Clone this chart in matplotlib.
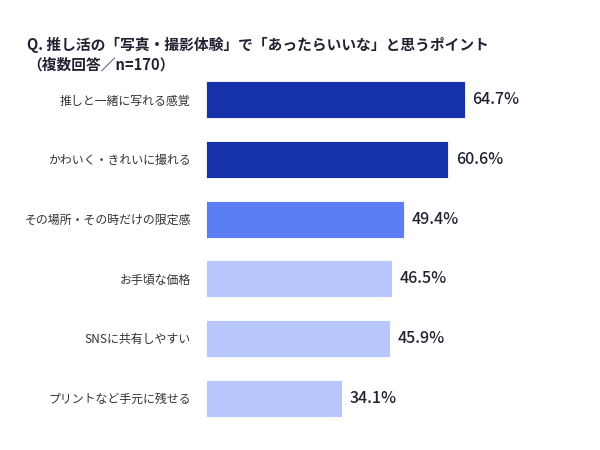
import matplotlib
matplotlib.use("Agg")
import matplotlib.pyplot as plt

plt.rcParams["font.family"] = ["Noto Sans CJK JP", "DejaVu Sans"]

TITLE = "Q. 推し活の「写真・撮影体験」で「あったらいいな」と思うポイント\n（複数回答／n=170）"
CATEGORIES = [
    "推しと一緒に写れる感覚",
    "かわいく・きれいに撮れる",
    "その場所・その時だけの限定感",
    "お手頃な価格",
    "SNSに共有しやすい",
    "プリントなど手元に残せる",
]
VALUES = [64.7, 60.6, 49.4, 46.5, 45.9, 34.1]
COLORS = ["#1632a8", "#1632a8", "#5b7ef2", "#b9c7ff", "#b9c7ff", "#b9c7ff"]

fig = plt.figure(figsize=(6, 4.5), dpi=100)
ax = fig.add_axes([206 / 600, 0.0489, 0.6, 0.7956])

ypos = list(range(len(CATEGORIES)))
ax.barh(ypos, VALUES, height=0.62, color=COLORS, edgecolor="white", linewidth=0.6)

for y, v in zip(ypos, VALUES):
    ax.text(v + 1.9, y, f"{v:.1f}%", va="center", ha="left",
            fontsize=11.5, fontweight="medium", color="#222233")

ax.set_xlim(0, 90)
ax.set_ylim(len(CATEGORIES) - 0.5, -0.5)
ax.set_yticks(ypos)
ax.set_yticklabels(CATEGORIES, fontsize=8.6, color="#333333")
ax.tick_params(axis="y", length=0, pad=11)
ax.set_xticks([])
for s in ax.spines.values():
    s.set_visible(False)

fig.text(27 / 600, 1 - 37 / 450, TITLE, ha="left", va="top",
         fontsize=10.6, fontweight="bold", color="#222233", linespacing=1.3)

fig.savefig("out.png", dpi=100)
